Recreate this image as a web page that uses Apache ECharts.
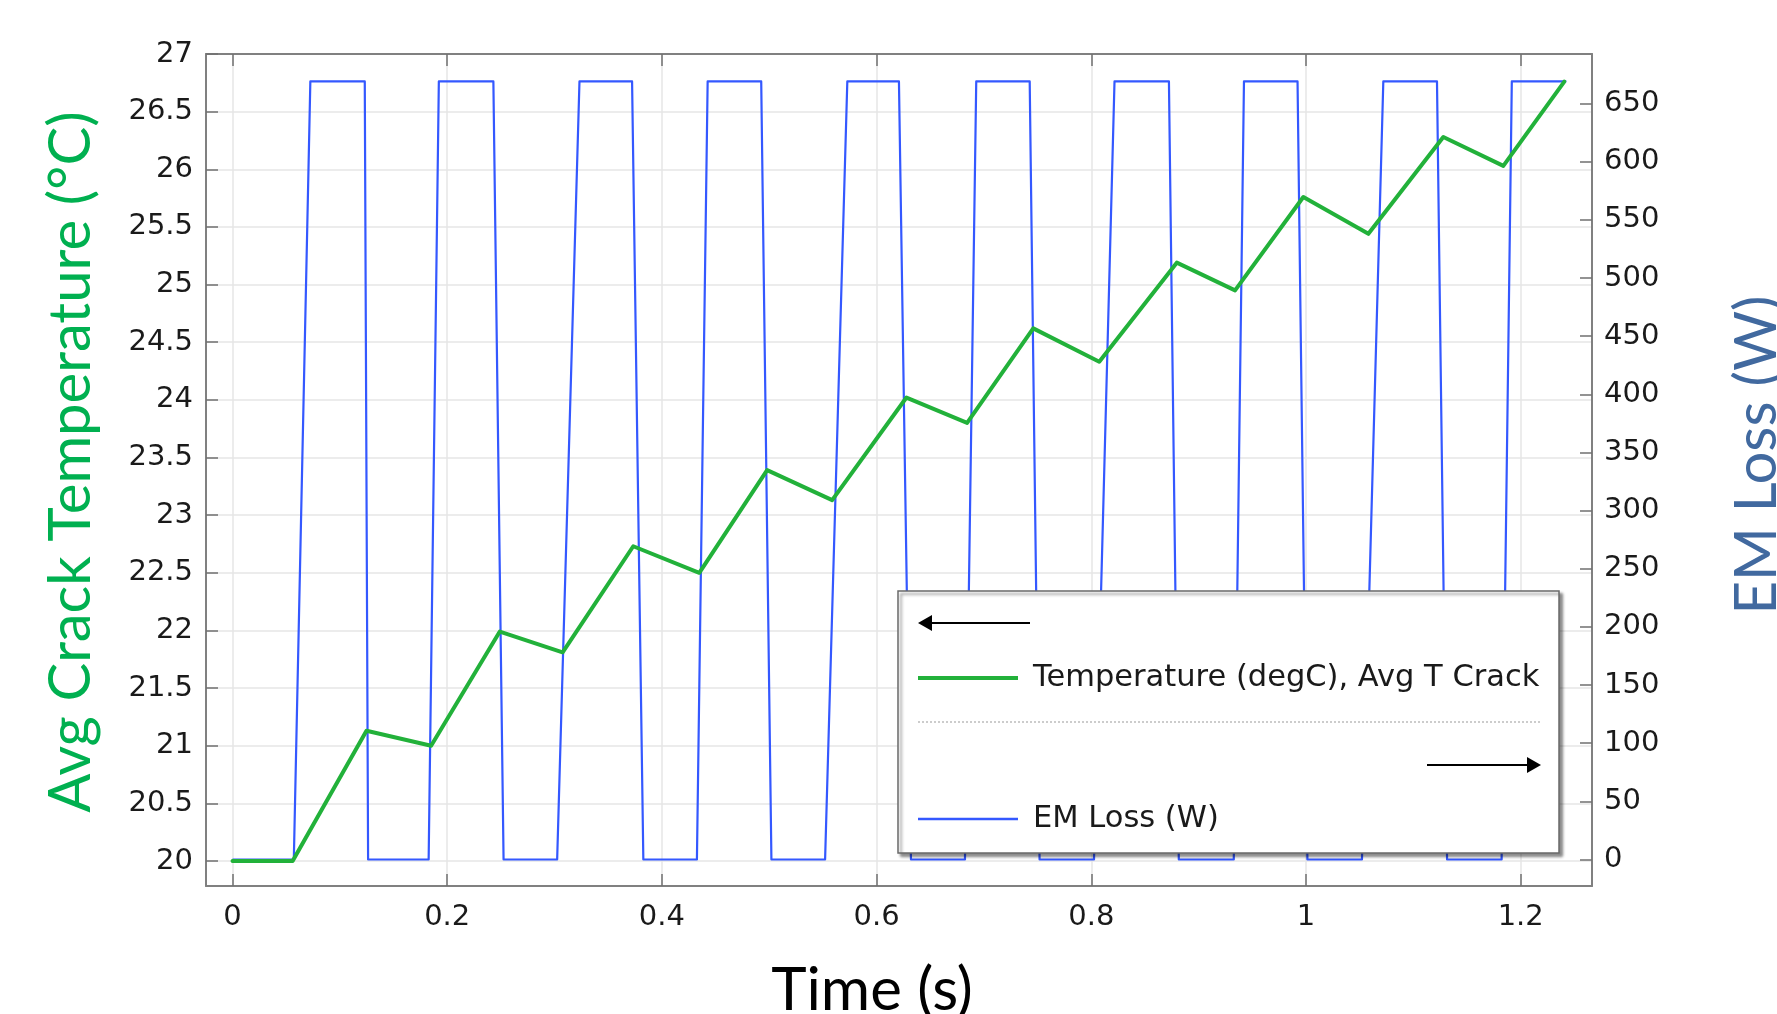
<!DOCTYPE html>
<html>
<head>
<meta charset="utf-8">
<script src="https://cdn.jsdelivr.net/npm/echarts@6/dist/echarts.min.js"></script>
<style>
html,body{margin:0;padding:0;background:#ffffff;}
#chart{width:1777px;height:1014px;}
</style>
</head>
<body>
<div id="chart"></div>
<script>
// ---- tick labels ----
const timeTicks = [0, 0.2, 0.4, 0.6, 0.8, 1, 1.2];
const tempTicks = [20, 20.5, 21, 21.5, 22, 22.5, 23, 23.5, 24, 24.5, 25, 25.5, 26, 26.5, 27];
const lossTicks = [0, 50, 100, 150, 200, 250, 300, 350, 400, 450, 500, 550, 600, 650];

// ---- EM Loss (W) vs time (s) ----
const emTime = [0, 0.0571, 0.0725, 0.1232, 0.1263, 0.1827, 0.1922, 0.2430, 0.2525, 0.3024,
                0.3232, 0.3722, 0.3827, 0.4326, 0.4426, 0.4925, 0.5020, 0.5520, 0.5727, 0.6208,
                0.6320, 0.6823, 0.6928, 0.7426, 0.7518, 0.8025, 0.8216, 0.8723, 0.8815, 0.9327,
                0.9422, 0.9921, 1.0013, 1.0521, 1.0720, 1.1220, 1.1314, 1.1822, 1.1917, 1.2425];
const emLoss = [0, 0, 669, 669, 0, 0, 669, 669, 0, 0,
                669, 669, 0, 0, 669, 669, 0, 0, 669, 669,
                0, 0, 669, 669, 0, 0, 669, 669, 0, 0,
                669, 669, 0, 0, 669, 669, 0, 0, 669, 669];

// ---- Avg crack temperature (degC) vs time (s) ----
const tempTime = [0, 0.0560, 0.1248, 0.1850, 0.2490, 0.3075, 0.3733, 0.4348, 0.4980, 0.5586,
                  0.6278, 0.6843, 0.7459, 0.8074, 0.8796, 0.9339, 0.9975, 1.0581, 1.1279, 1.1838, 1.2406];
const tempVal = [20, 20, 21.13, 21.00, 21.99, 21.81, 22.73, 22.50, 23.39, 23.13,
                 24.02, 23.80, 24.62, 24.33, 25.19, 24.95, 25.76, 25.44, 26.28, 26.03, 26.76];

const tempName = 'Temperature (degC), Avg T Crack';
const lossName = 'EM Loss (W)';

const emData = emTime.map((t, i) => [t, emLoss[i]]);
const tempData = tempTime.map((t, i) => [t, tempVal[i]]);

const axisLineStyle = {color: '#808080', width: 2};
const tickStyle = {color: '#707070', width: 1.5};
const labelFont = {fontFamily: 'DejaVu Sans', fontSize: 29, color: '#1a1a1a'};
const titleFont = 'Lato';

const chart = echarts.init(document.getElementById('chart'), null, {renderer: 'canvas'});

const option = {
  animation: false,
  backgroundColor: '#ffffff',
  grid: {left: 206, right: 185, top: 54, bottom: 128, containLabel: false, outerBoundsMode: 'none'},
  xAxis: [
    {
      type: 'value', position: 'bottom', min: -0.0247, max: 1.2664,
      axisLine: {show: true, onZero: false, lineStyle: axisLineStyle},
      axisTick: {show: true, inside: true, length: 12, customValues: timeTicks, lineStyle: tickStyle},
      axisLabel: Object.assign({customValues: timeTicks, margin: 17, formatter: v => String(v)}, labelFont),
      splitLine: {show: true, lineStyle: {color: '#e6e6e6', width: 1.5}},
      name: 'Time (s)', nameLocation: 'middle', nameGap: 75,
      nameTextStyle: {fontFamily: titleFont, fontSize: 60, color: '#000000', padding: [0, 54, 0, 0]}
    },
    {
      type: 'value', position: 'top', min: -0.0247, max: 1.2664,
      axisLine: {show: true, onZero: false, lineStyle: axisLineStyle},
      axisTick: {show: true, inside: true, length: 12, customValues: timeTicks, lineStyle: tickStyle},
      axisLabel: {show: false},
      splitLine: {show: false}
    }
  ],
  yAxis: [
    {
      type: 'value', position: 'left', min: 19.783, max: 27,
      axisLine: {show: true, onZero: false, lineStyle: axisLineStyle},
      axisTick: {show: true, inside: true, length: 12, customValues: tempTicks, lineStyle: tickStyle},
      axisLabel: Object.assign({customValues: tempTicks, margin: 13, formatter: v => String(v)}, labelFont),
      splitLine: {show: true, lineStyle: {color: '#e6e6e6', width: 1.5}},
      name: 'Avg Crack Temperature (°C)', nameLocation: 'middle', nameGap: 106, nameRotate: 90,
      nameTextStyle: {fontFamily: titleFont, fontSize: 58, color: '#00b050', padding: [0, 0, 0, 16]}
    },
    {
      type: 'value', position: 'right', min: -22.8, max: 692.6,
      axisLine: {show: true, onZero: false, lineStyle: axisLineStyle},
      axisTick: {show: true, inside: true, length: 12, customValues: lossTicks, lineStyle: tickStyle},
      axisLabel: Object.assign({customValues: lossTicks, margin: 12, formatter: v => String(v)}, labelFont),
      splitLine: {show: false},
      name: lossName, nameLocation: 'middle', nameGap: 136, nameRotate: 90,
      nameTextStyle: {fontFamily: titleFont, fontSize: 58, color: '#41699f', padding: [0, 0, 0, 30]}
    }
  ],
  legend: [
    {
      data: [tempName], left: 918, top: 662, padding: 0, icon: 'rect',
      itemWidth: 100, itemHeight: 4, selectedMode: false, z: 10,
      textStyle: {fontFamily: 'DejaVu Sans', fontSize: 30.5, color: '#1a1a1a', lineHeight: 32, padding: [0, 0, 0, 10]}
    },
    {
      data: [lossName], left: 918, top: 803, padding: 0, icon: 'rect',
      itemWidth: 100, itemHeight: 2.5, selectedMode: false, z: 10,
      textStyle: {fontFamily: 'DejaVu Sans', fontSize: 30.5, color: '#1a1a1a', lineHeight: 32, padding: [0, 0, 0, 10]}
    }
  ],
  graphic: [
    {type: 'rect', z: 8, shape: {x: 898, y: 591, width: 661, height: 262},
     style: {fill: '#ffffff', stroke: '#6a6a6a', lineWidth: 1.5,
             shadowBlur: 3, shadowOffsetX: 3, shadowOffsetY: 3, shadowColor: 'rgba(0,0,0,0.45)'}},
    {type: 'line', z: 11, shape: {x1: 928, y1: 623, x2: 1030, y2: 623}, style: {stroke: '#000', lineWidth: 2}},
    {type: 'polygon', z: 11, shape: {points: [[918, 623], [932, 615], [932, 631]]}, style: {fill: '#000'}},
    {type: 'line', z: 11, shape: {x1: 918, y1: 722, x2: 1541, y2: 722}, style: {stroke: '#999', lineWidth: 1, lineDash: [2, 2]}},
    {type: 'line', z: 11, shape: {x1: 1427, y1: 765, x2: 1530, y2: 765}, style: {stroke: '#000', lineWidth: 2}},
    {type: 'polygon', z: 11, shape: {points: [[1541, 765], [1527, 757], [1527, 773]]}, style: {fill: '#000'}}
  ],
  series: [
    {
      name: lossName, type: 'line', xAxisIndex: 0, yAxisIndex: 1, data: emData,
      showSymbol: false, symbol: 'none', color: '#3458ff',
      lineStyle: {color: '#3458ff', width: 2.2, join: 'round'}, z: 2
    },
    {
      name: tempName, type: 'line', xAxisIndex: 0, yAxisIndex: 0, data: tempData,
      showSymbol: false, symbol: 'none', color: '#22b13a',
      lineStyle: {color: '#22b13a', width: 4, join: 'round', cap: 'round'}, z: 3
    }
  ]
};
chart.setOption(option);
</script>
</body>
</html>
